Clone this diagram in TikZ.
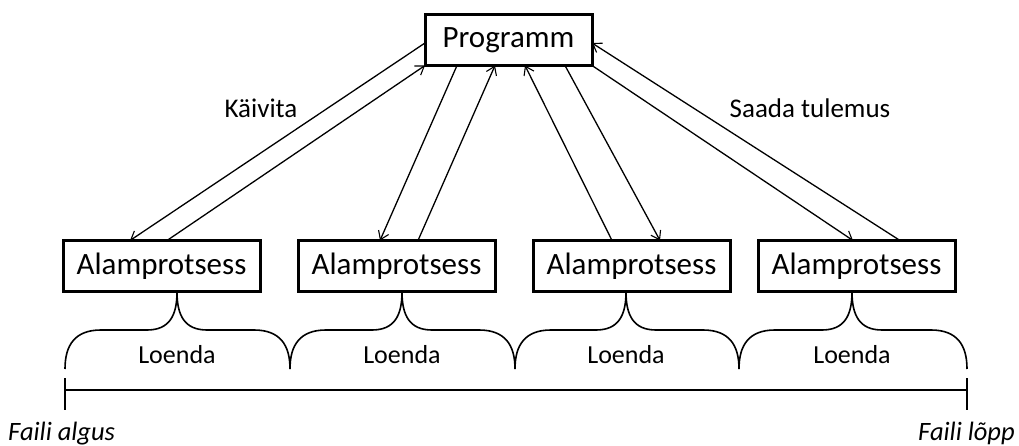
\documentclass[tikz,border=0pt]{standalone}
\usepackage{fontspec}
\setmainfont{Carlito}
\usetikzlibrary{arrows.meta}
\begin{document}
\begin{tikzpicture}[x=1pt,y=-1pt,
  box/.style={draw,line width=3pt,outer sep=0pt,inner sep=0pt,minimum height=51pt,font=\fontsize{31}{36}\selectfont},
  conn/.style={line width=1.3pt,-{Straight Barb[length=8pt,width=11pt,line width=1.1pt]}},
  lbl/.style={anchor=base,inner sep=0pt,font=\fontsize{27}{32}\selectfont},
  brace/.style={line width=1.6pt},
  bl/.style={anchor=base,inner sep=0pt,font=\fontsize{26}{31}\selectfont},
  endl/.style={inner sep=0pt,font=\fontsize{26.5}{31}\selectfont\itshape}]
\useasboundingbox (0,0) rectangle (1019,446);
\node[box,minimum width=167pt] (p) at (508.5,40) {Programm};
\node[box,minimum width=197pt] (b1) at (161.5,266) {Alamprotsess};
\node[box,minimum width=197pt] (b2) at (396.5,266) {Alamprotsess};
\node[box,minimum width=197pt] (b3) at (631.5,266) {Alamprotsess};
\node[box,minimum width=197pt] (b4) at (856.5,266) {Alamprotsess};
% arrows
\draw[conn] ([yshift=-3pt]p.west) -- ([xshift=-31.5pt]b1.north);
\draw[conn] ([xshift=5.5pt]b1.north) -- (p.south west);
\draw[conn] ([xshift=32pt]p.south west) -- ([xshift=-16.5pt]b2.north);
\draw[conn] ([xshift=21.5pt]b2.north) -- ([xshift=70pt]p.south west);
\draw[conn] ([xshift=-19.5pt]b3.north) -- ([xshift=100pt]p.south west);
\draw[conn] ([xshift=140pt]p.south west) -- ([xshift=28.5pt]b3.north);
\draw[conn] (p.south east) -- ([xshift=-3.5pt]b4.north);
\draw[conn] ([xshift=43.5pt]b4.north) -- ([yshift=-3pt]p.east);
\node[lbl] (k) at (261,118) {Käivita};
\node[lbl] (s) at (810,118) {Saada tulemus};
% braces
\foreach \L/\T/\R [count=\i] in {65/177/290, 290/402/515, 515/626/739, 739/852/967}{
  \draw[brace] (\L,369) .. controls (\L,345) and (\L+10,330) .. (\L+36,330)
     -- (\T-30,330) .. controls (\T-8,330) and (\T,316) .. (\T,292)
     .. controls (\T,316) and (\T+8,330) .. (\T+30,330)
     -- (\R-36,330) .. controls (\R-10,330) and (\R,345) .. (\R,369);
  \node[bl] (lo\i) at (\T,363) {Loenda};
}
% timeline
\coordinate (ts) at (65,390);
\coordinate (te) at (967,390);
\draw[brace] (ts) -- (te);
\draw[brace] ([yshift=12pt]ts) -- ([yshift=-20pt]ts);
\draw[brace] ([yshift=12pt]te) -- ([yshift=-20pt]te);
\node[endl,anchor=base west] (fa) at (8,440) {Faili algus};
\node[endl,anchor=base east] (fl) at (1015,440) {Faili lõpp};
\end{tikzpicture}
\end{document}
